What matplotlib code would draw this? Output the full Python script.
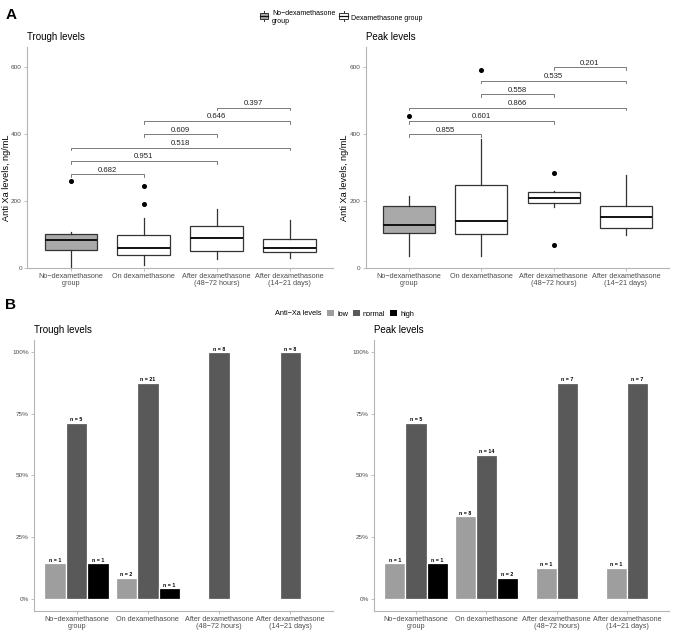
import matplotlib
matplotlib.use("Agg")
import matplotlib.pyplot as plt
from matplotlib.patches import Rectangle, Patch
from matplotlib.lines import Line2D
from matplotlib.legend_handler import HandlerBase

plt.rcParams["font.family"] = ["Liberation Sans", "DejaVu Sans"]

groups = ["No−dexamethasone\ngroup", "On dexamethasone",
          "After dexamethasone\n(48−72 hours)", "After dexamethasone\n(14−21 days)"]

# box stats: (whislo, q1, med, q3, whishi)
trough_box = [(3, 55, 85, 103, 108), (10, 40, 60, 100, 150),
              (28, 50, 90, 125, 178), (30, 48, 60, 88, 145)]
trough_out = [[260], [245, 193], [], []]
peak_box = [(35, 105, 128, 187, 217), (35, 103, 140, 250, 385),
            (183, 195, 210, 228, 232), (100, 120, 152, 185, 278)]
peak_out = [[455], [592], [285, 70], []]

# pairwise p-values (group i, group j, bracket height, label)
trough_p = [(1, 2, 280, "0.682"), (1, 3, 320, "0.951"), (1, 4, 360, "0.518"),
            (2, 3, 400, "0.609"), (2, 4, 440, "0.646"), (3, 4, 480, "0.397")]
peak_p = [(1, 2, 400, "0.855"), (1, 3, 440, "0.601"), (1, 4, 480, "0.866"),
          (2, 3, 520, "0.558"), (2, 4, 560, "0.535"), (3, 4, 600, "0.201")]

# panel B counts per group: low, normal, high
levels = ["low", "normal", "high"]
level_colors = ["#9e9e9e", "#595959", "#000000"]
trough_n = [[1, 5, 1], [2, 21, 1], [0, 8, 0], [0, 8, 0]]
peak_n = [[1, 5, 1], [8, 14, 2], [1, 7, 0], [1, 7, 0]]

box_fill = ["#a9a9a9", "white", "white", "white"]
axis_col = "#b5b5b5"
tick_col = "#4d4d4d"


class BoxHandler(HandlerBase):
    """small boxplot glyph for the legend"""

    def create_artists(self, legend, orig_handle, xd, yd, w, h, fontsize, trans):
        fc = orig_handle.get_facecolor()
        cx = xd + w / 2
        whisk = Line2D([cx, cx], [yd - 0.2 * h, yd + 1.2 * h], color="#333333", lw=0.7, transform=trans)
        box = Rectangle((xd, yd + 0.1 * h), w, 0.8 * h, facecolor=fc, edgecolor="#333333", lw=0.7,
                        transform=trans)
        med = Line2D([xd, xd + w], [yd + h / 2, yd + h / 2], color="#111111", lw=0.9, transform=trans)
        return [whisk, box, med]


def style_axes(ax):
    for s in ["top", "right"]:
        ax.spines[s].set_visible(False)
    for s in ["left", "bottom"]:
        ax.spines[s].set_color(axis_col)
        ax.spines[s].set_linewidth(0.8)
    ax.tick_params(colors=axis_col, labelcolor=tick_col, labelsize=5.2, length=2.2, width=0.6, pad=1.5)
    ax.tick_params(axis="y", labelsize=4.6)
    ax.set_xticks(range(1, 5))
    ax.set_xticklabels(groups, linespacing=0.95)
    ax.set_xlim(0.4, 4.6)


def box_panel(ax, box, outl, pvals, title, ylabel, lab_x):
    stats = []
    for (lo, q1, med, q3, hi), fl in zip(box, outl):
        stats.append(dict(whislo=lo, q1=q1, med=med, q3=q3, whishi=hi, fliers=fl))
    bp = ax.bxp(stats, positions=range(1, 5), widths=0.72, patch_artist=True, showcaps=False,
                boxprops=dict(edgecolor="#333333", lw=0.9),
                whiskerprops=dict(color="#333333", lw=0.9),
                medianprops=dict(color="#111111", lw=1.4),
                flierprops=dict(marker="o", markerfacecolor="black", markeredgecolor="black", markersize=2.6))
    for patch, fc in zip(bp["boxes"], box_fill):
        patch.set_facecolor(fc)
    for i, j, y, lab in pvals:
        ax.plot([i, i, j, j], [y - 8, y, y, y - 8], color="#666666", lw=0.6)
        ax.text((i + j) / 2, y + 2, lab, ha="center", va="bottom", fontsize=5.6, color="#222222")
    style_axes(ax)
    ax.set_ylim(0, 660)
    ax.set_yticks([0, 200, 400, 600])
    ax.set_ylabel(ylabel, fontsize=6.6)
    ax.yaxis.set_label_coords(lab_x, 0.41)
    ax.set_title(title, loc="left", fontsize=7, pad=5)


def bar_panel(ax, counts, title):
    w = 0.3
    for g, cnt in enumerate(counts):
        total = sum(cnt)
        present = [k for k in range(3) if cnt[k] > 0]
        m = len(present)
        for slot, k in enumerate(present):
            x = g + 1 + (slot - (m - 1) / 2) * w
            frac = cnt[k] / total
            ax.bar(x, frac, width=w, color=level_colors[k], edgecolor="white", lw=0.9)
            ax.text(x, frac + 0.003, "n = %d" % cnt[k], ha="center", va="bottom", fontsize=3.8,
                    fontweight="bold", color="black")
    style_axes(ax)
    ax.set_ylim(-0.05, 1.05)
    ax.set_yticks([0, 0.25, 0.5, 0.75, 1.0])
    ax.set_yticklabels(["0%", "25%", "50%", "75%", "100%"])
    ax.set_title(title, loc="left", fontsize=7, pad=5)


fig = plt.figure(figsize=(6.76, 6.31), dpi=100)

ax1 = fig.add_axes([0.040, 0.575, 0.453, 0.350])
ax2 = fig.add_axes([0.541, 0.575, 0.449, 0.350])
ax3 = fig.add_axes([0.050, 0.032, 0.443, 0.429])
ax4 = fig.add_axes([0.553, 0.032, 0.437, 0.429])

box_panel(ax1, trough_box, trough_out, trough_p, "Trough levels", "Anti Xa levels, ng/mL", -0.054)
box_panel(ax2, peak_box, peak_out, peak_p, "Peak levels", "Anti Xa levels, ng/mL", -0.056)
bar_panel(ax3, trough_n, "Trough levels")
bar_panel(ax4, peak_n, "Peak levels")

fig.text(0.008, 0.988, "A", fontsize=11, fontweight="bold", va="top")
fig.text(0.008, 0.528, "B", fontsize=11, fontweight="bold", va="top")

# legend A
hA = [Patch(facecolor=box_fill[0]), Patch(facecolor="white")]
fig.legend(hA, ["No−dexamethasone\ngroup", "Dexamethasone group"], loc="center",
           bbox_to_anchor=(0.505, 0.972), ncol=2, frameon=False, fontsize=5,
           handler_map={Patch: BoxHandler()}, handlelength=1.2, handleheight=1.1,
           handletextpad=0.5, columnspacing=0.6)

# legend B
hB = [Patch(facecolor=c) for c in level_colors]
fig.legend(hB, levels, loc="center", bbox_to_anchor=(0.548, 0.503), ncol=3, frameon=False,
           fontsize=5.3, handlelength=1.0, handleheight=1.0, handletextpad=0.4, columnspacing=0.6)
fig.text(0.476, 0.503, "Anti−Xa levels", fontsize=5.3, ha="right", va="center")

fig.savefig("out.png", dpi=100)
